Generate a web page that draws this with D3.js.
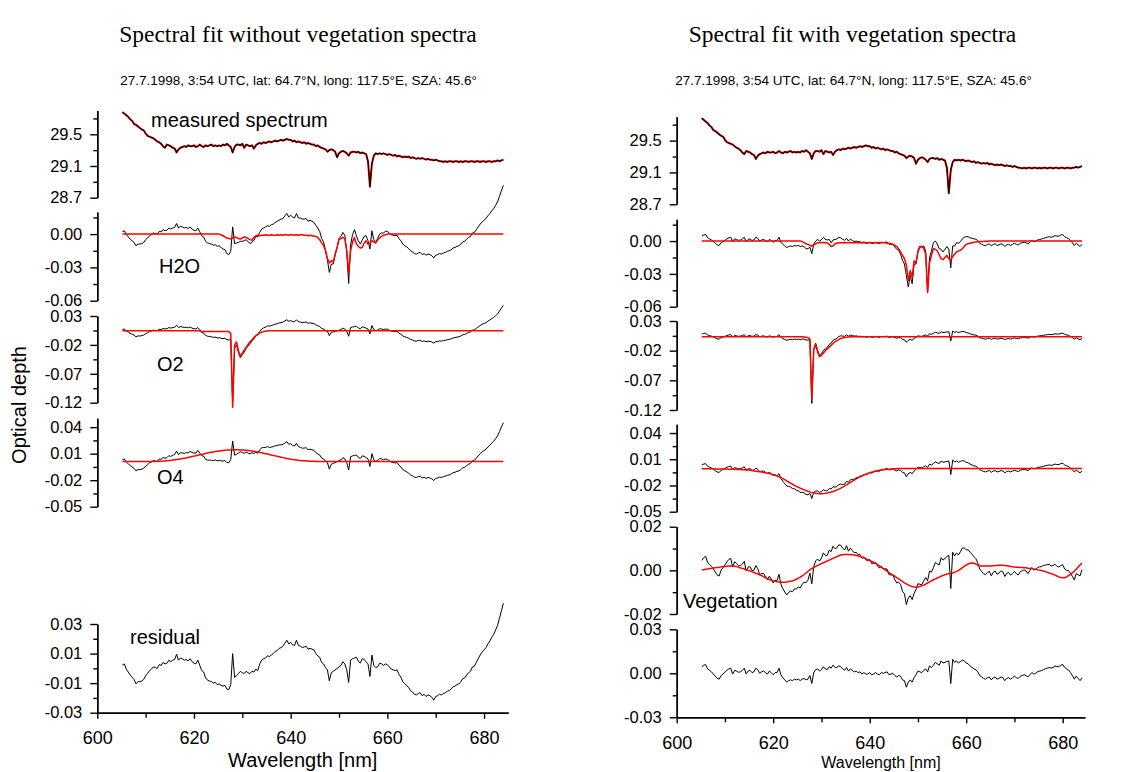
<!DOCTYPE html>
<html><head><meta charset="utf-8">
<script src="https://cdn.jsdelivr.net/npm/d3@7"></script>
<style>body{margin:0;background:#fff}svg{display:block}</style>
</head><body>
<svg id="chart" width="1131" height="772"></svg>
<script>
// ---------------- DATA ----------------
// wavelength grid [nm]: 605.2, 605.6, ... 684.0 (step 0.4 nm, 198 points; 10 per row)
const WL_START = 605.2, WL_STEP = 0.4;

// measured spectrum (ln intensity), same measurement in both fits
const measured = [
29.78,29.76,29.74,29.72,29.69,29.67,29.63,29.62,29.60,29.58,
29.56,29.55,29.51,29.48,29.47,29.46,29.45,29.43,29.41,29.40,
29.38,29.35,29.33,29.37,29.36,29.35,29.33,29.32,29.27,29.31,
29.33,29.34,29.35,29.34,29.36,29.35,29.35,29.36,29.34,29.35,
29.37,29.35,29.34,29.36,29.35,29.36,29.37,29.35,29.36,29.35,
29.36,29.35,29.37,29.36,29.38,29.36,29.34,29.27,29.34,29.37,
29.37,29.36,29.38,29.33,29.37,29.36,29.35,29.36,29.32,29.36,
29.38,29.39,29.38,29.40,29.39,29.40,29.41,29.40,29.41,29.42,
29.41,29.42,29.43,29.42,29.43,29.44,29.43,29.43,29.41,29.42,
29.40,29.41,29.40,29.39,29.40,29.38,29.39,29.38,29.37,29.37,
29.35,29.36,29.34,29.33,29.32,29.31,29.28,29.30,29.31,29.30,
29.28,29.21,29.26,29.28,29.29,29.28,29.26,29.23,29.27,29.28,
29.28,29.27,29.28,29.26,29.27,29.26,29.25,29.16,28.84,29.13,
29.23,29.26,29.25,29.26,29.25,29.26,29.25,29.24,29.25,29.24,
29.23,29.24,29.22,29.23,29.22,29.21,29.22,29.21,29.22,29.20,
29.21,29.20,29.19,29.20,29.19,29.20,29.19,29.18,29.19,29.18,
29.18,29.17,29.18,29.17,29.16,29.16,29.15,29.16,29.15,29.16,
29.16,29.15,29.16,29.16,29.15,29.16,29.15,29.16,29.16,29.15,
29.16,29.16,29.15,29.16,29.16,29.15,29.16,29.16,29.15,29.16,
29.16,29.15,29.16,29.16,29.17,29.16,29.17,29.18];

// all optical-depth series below are in units of 1e-3
// fit residual, fit without vegetation spectra
const residualLeft = [
2.3,3.0,-0.5,-2.5,-4.5,-6.0,-7.5,-10.5,-9.0,-9.0,
-8.5,-7.5,-5.0,-3.5,-1.5,-0.5,1.0,0.5,0.0,2.5,
2.0,4.0,3.0,3.5,5.5,4.5,5.5,6.0,9.5,5.5,
7.0,6.5,5.5,6.0,5.0,6.5,4.5,3.5,3.0,5.5,
2.0,-1.5,-2.5,-6.5,-8.0,-8.5,-9.0,-10.0,-9.5,-11.0,
-10.5,-11.5,-12.0,-11.5,-14.0,-14.5,-11.0,10.0,-6.0,-5.0,
-3.5,-2.0,-3.0,-3.5,-2.0,-3.0,-3.5,-2.0,-2.5,-0.5,
-1.5,3.0,5.5,6.5,7.0,8.5,8.0,9.0,10.0,11.5,
12.0,13.5,14.0,15.0,17.0,19.0,16.5,17.5,16.0,15.5,
19.0,15.5,15.0,14.0,14.5,15.0,13.0,13.5,13.0,12.5,
10.0,8.5,7.5,4.0,3.0,0.5,-1.0,-8.5,-3.0,-2.0,
-1.0,0.0,1.0,2.0,4.5,3.0,-1.0,-9.5,5.5,6.5,
7.0,7.5,5.0,3.5,6.5,6.0,4.5,3.0,-5.5,9.0,
2.0,0.5,1.0,3.5,3.0,2.0,3.0,2.5,1.0,-0.5,
-1.0,-1.5,-1.0,-4.0,-6.0,-9.0,-10.5,-11.5,-13.0,-15.0,
-16.0,-17.5,-18.0,-17.0,-16.5,-18.5,-17.5,-19.0,-18.0,-18.5,
-19.5,-21.5,-19.0,-18.5,-17.5,-18.0,-17.0,-16.5,-15.5,-15.0,
-14.0,-12.5,-12.0,-11.0,-10.5,-9.0,-7.0,-6.5,-4.5,-3.0,
-2.0,1.0,1.5,4.0,6.5,9.0,11.0,12.5,14.0,16.5,
18.5,21.0,23.0,26.0,29.0,34.0,39.0,44.0];

// fit residual, fit with vegetation spectra
const residualRight = [
4.5,5.5,6.0,3.0,2.0,1.0,-0.5,-2.0,-3.5,-4.0,
-1.5,-0.5,0.7,2.0,3.0,3.5,-0.5,2.0,1.5,0.7,
1.0,2.0,3.5,-0.5,1.5,2.0,0.5,1.0,3.5,2.5,
0.0,1.0,1.5,0.5,-0.5,1.5,0.5,-1.0,0.5,0.5,
3.5,-1.0,-3.0,-4.5,-6.0,-5.0,-4.5,-5.0,-4.0,-4.5,
-4.0,-5.0,-4.0,-3.5,-4.5,-4.0,-1.5,-7.0,0.5,2.5,
3.0,1.5,2.5,4.5,3.0,2.5,4.5,3.5,5.5,4.0,
4.0,5.0,4.5,3.0,2.0,4.0,1.5,3.0,2.0,1.0,
1.5,0.5,1.0,-0.5,0.5,-0.5,-0.5,0.5,-1.0,-0.5,
0.5,-0.5,-1.0,0.5,0.0,0.5,1.0,-1.0,-0.5,0.0,
-1.5,-2.5,-1.5,-2.0,-4.5,-5.0,-9.5,-6.0,-4.5,-6.0,
-3.0,-1.0,1.5,1.0,0.5,2.0,3.0,1.0,5.0,4.0,
5.5,7.5,6.5,5.5,8.5,7.0,7.5,8.0,8.5,-7.0,
9.5,7.5,8.5,7.0,8.0,9.0,8.5,7.0,6.5,5.0,
4.0,3.0,2.5,1.0,-1.5,-2.5,-3.5,-4.0,-3.0,-2.5,
-4.5,-3.0,-2.5,-4.0,-3.5,-2.5,-3.0,-5.0,-3.5,-3.0,
-4.0,-3.0,-2.0,-3.0,-3.5,-2.0,-1.5,-1.0,-1.5,-2.5,
-1.0,0.5,-0.5,0.0,1.0,1.5,1.8,2.5,3.0,3.5,
4.0,3.5,4.0,5.0,4.5,4.5,5.5,6.0,4.0,3.0,
2.3,0.5,-1.5,-4.0,-2.0,-3.5,-5.0,-3.0];

// fitted (scaled) cross sections, left fit
const h2oLeft = [
0,0,0,0,0,0,0,0,0,0,
0,0,0,0,0,0,0,0,0,0,
0,0,0,0,0,0,0,0,0,0,
0,0,0,0,0,0,0,0,0,0,
0,0,0,0,0,0,0,0,0,0,
0,-0.5,-1.5,-2.5,-3.5,-4,-4.5,-3.5,-2.5,-3,
-4,-4.5,-3.5,-2.5,-3,-4,-5,-5.5,-3,-1.5,
-1,-1.5,-1,-1,-0.5,-1,-1,-0.5,-1,-1,
-0.5,-1,-0.5,-1,-0.5,-0.5,-1,-0.5,-0.5,-1,
-0.5,-1,-0.5,-0.5,-1,-1,-1.5,-1,-1.5,-2,
-2,-3,-5,-8,-10,-15,-22,-26,-24,-25,
-18,-12,-5,-4,-3,-4,-15,-35,-15,-7,
-3,-9,-11,-12.5,-12,-8,-6,-9,-8,-6,
-7,-8,-5,-3.5,-2,-1,-0.5,0,0,0,
0,0,0,0,0,0,0,0,0,0,
0,0,0,0,0,0,0,0,0,0,
0,0,0,0,0,0,0,0,0,0,
0,0,0,0,0,0,0,0,0,0,
0,0,0,0,0,0,0,0,0,0,
0,0,0,0,0,0,0,0];

const o2Left = [
4.5,4.5,4.5,4.5,4.5,4.5,4.5,4.5,4.5,4.5,
4.5,4.5,4.5,4.5,4.5,4.5,4.5,4.5,4.5,4.5,
4.5,4.5,4.5,4.5,4.5,4.5,4.5,4.5,4.5,4.5,
4.5,4.5,4.5,4.5,4.5,4.5,4.5,4.5,4.5,4.5,
4.5,3,3,3,3,3,3,3,3,3,
3,3,3,3,3,3,0,-128,-20,-15,
-30,-40,-34,-29,-24,-19,-14.5,-11,-7,-4,
-1.5,0.5,2,3,3.7,4.2,4.5,4.5,4.5,4.5,
4.5,4.5,4.5,4.5,4.5,4.5,4.5,4.5,4.5,4.5,
4.5,4.5,4.5,4.5,4.5,4.5,4.5,4.5,4.5,4.5,
4.5,4.5,4.5,4.5,4.5,4.5,4.5,4.5,4.5,4.5,
4.5,4.5,4.5,4.5,4.5,4.5,4.5,4.5,4.5,4.5,
4.5,4.5,4.5,4.5,4.5,4.5,4.5,4.5,4.5,4.5,
4.5,4.5,4.5,4.5,4.5,4.5,4.5,4.5,4.5,4.5,
4.5,4.5,4.5,4.5,4.5,4.5,4.5,4.5,4.5,4.5,
4.5,4.5,4.5,4.5,4.5,4.5,4.5,4.5,4.5,4.5,
4.5,4.5,4.5,4.5,4.5,4.5,4.5,4.5,4.5,4.5,
4.5,4.5,4.5,4.5,4.5,4.5,4.5,4.5,4.5,4.5,
4.5,4.5,4.5,4.5,4.5,4.5,4.5,4.5,4.5,4.5,
4.5,4.5,4.5,4.5,4.5,4.5,4.5,4.5];

const o4Left = [
1,1,1,1,1,1,1,1,1,1,
1,1,1,1,1.1,1.1,1.2,1.2,1.3,1.4,
1.5,1.6,1.8,2,2.2,2.4,2.7,3,3.3,3.6,
4,4.4,4.8,5.2,5.7,6.2,6.7,7.2,7.7,8.2,
8.7,9.2,9.7,10.2,10.7,11.2,11.6,12,12.4,12.8,
13.1,13.4,13.6,13.8,14,14.1,14.2,14.3,14.3,14.3,
14.3,14.2,14.1,14,13.8,13.6,13.3,13,12.7,12.3,
11.9,11.5,11,10.5,10,9.5,9,8.5,8,7.5,
7,6.5,6,5.5,5,4.6,4.2,3.8,3.4,3.1,
2.8,2.5,2.3,2.1,1.9,1.7,1.6,1.5,1.4,1.3,
1.2,1.2,1.1,1.1,1.1,1,1,1,1,1,
1,1,1,1,1,1,1,1,1,1,
1,1,1,1,1,1,1,1,1,1,
1,1,1,1,1,1,1,1,1,1,
1,1,1,1,1,1,1,1,1,1,
1,1,1,1,1,1,1,1,1,1,
1,1,1,1,1,1,1,1,1,1,
1,1,1,1,1,1,1,1,1,1,
1,1,1,1,1,1,1,1,1,1,
1,1,1,1,1,1,1,1];

// fitted (scaled) cross sections, right fit
const h2oRight = [
0,0,0,0,0,0,0,0,0,0,
0,0,0,0,0,0,0,0,0,0,
0,0,0,0,0,0,0,0,0,0,
0,0,0,0,0,0,0,0,0,0,
0,0,0,0,0,0,0,0,0,0,
0,0,-0.5,-1.5,-2.5,-3,-4,-4.5,-3.5,-2.5,
-1.5,-1.5,-1.2,-1.2,-1.5,-1.5,-3,-5,-4.5,-2.5,
-2,-1.5,-1.5,-1.5,-1.2,-1.5,-1.5,-1.2,-1.5,-1.5,
-1.5,-1.2,-1.5,-1.5,-1.2,-1.5,-1.5,-1.5,-1.2,-1.5,
-1.5,-1.5,-1.2,-1.5,-1.5,-1.5,-2,-2,-2.5,-3,
-4,-5,-7,-10,-13,-16,-22,-36,-27,-33,
-18,-20,-10,-5.5,-5.5,-6.5,-12,-47,-20,-13,
-7,-7.5,-9,-12.5,-16,-17,-15,-13,-16,-17.5,
-14,-12,-10,-9,-8.5,-7,-5,-3,-2.5,-2,
-1.5,-1,-0.8,-0.6,-0.5,-0.4,-0.3,-0.2,-0.1,0,
0,0,0,0,0,0,0,0,0,0,
0,0,0,0,0,0,0,0,0,0,
0,0,0,0,0,0,0,0,0,0,
0,0,0,0,0,0,0,0,0,0,
0,0,0,0,0,0,0,0];

const o2Right = [
3.5,3.5,3.5,3.5,3.5,3.5,3.5,3.5,3.5,3.5,
3.5,3.5,3.5,3.5,3.5,3.5,3.5,3.5,3.5,3.5,
3.5,3.5,3.5,3.5,3.5,3.5,3.5,3.5,3.5,3.5,
3.5,3.5,3.5,3.5,3.5,3.5,3.5,3.5,3.5,3.5,
3.5,3.5,3.5,3.5,3.5,3.5,3.5,3.5,3.5,3.5,
3.5,3.5,3.5,3,2.5,2,0,-102,-18,-10,
-22,-30,-28,-24,-20,-17,-14,-11,-8,-5,
-3,-1,0.5,1.5,2.2,2.7,3,3.3,3.5,3.5,
3.5,3.5,3.5,3.5,3.5,3.5,3.5,3.5,3.5,3.5,
3.5,3.5,3.5,3.5,3.5,3.5,3.5,3.5,3.5,3.5,
3.5,3.5,3.5,3.5,3.5,3.5,3.5,3.5,3.5,3.5,
3.5,3.5,3.5,3.5,3.5,3.5,3.5,3.5,3.5,3.5,
3.5,3.5,3.5,3.5,3.5,3.5,3.5,3.5,3.5,3.5,
3.5,3.5,3.5,3.5,3.5,3.5,3.5,3.5,3.5,3.5,
3.5,3.5,3.5,3.5,3.5,3.5,3.5,3.5,3.5,3.5,
3.5,3.5,3.5,3.5,3.5,3.5,3.5,3.5,3.5,3.5,
3.5,3.5,3.5,3.5,3.5,3.5,3.5,3.5,3.5,3.5,
3.5,3.5,3.5,3.5,3.5,3.5,3.5,3.5,3.5,3.5,
3.5,3.5,3.5,3.5,3.5,3.5,3.5,3.5,3.5,3.5,
3.5,3.5,3.5,3.5,3.5,3.5,3.5,3.5];

const o4Right = [
-1,-1,-1,-1,-1,-1,-1,-1.1,-1.1,-1.1,
-1.1,-1.2,-1.2,-1.2,-1.3,-1.3,-1.4,-1.5,-1.6,-1.7,
-1.8,-1.9,-2,-2.2,-2.4,-2.7,-3,-3.3,-3.6,-3.9,
-4.2,-4.6,-5,-5.4,-5.9,-6.4,-7,-7.6,-8.3,-9.2,
-10,-11,-12.2,-13.4,-14.7,-16,-17.3,-18.6,-19.8,-21,
-22,-23,-24,-25,-25.8,-26.6,-27.3,-27.9,-28.4,-28.9,
-29.2,-29.4,-29.4,-29.3,-29,-28.6,-28.1,-27.5,-26.8,-26,
-25.1,-24.1,-23,-21.8,-20.5,-19.2,-17.8,-16.5,-15.1,-13.8,
-12.5,-11.3,-10.1,-9,-8,-7.1,-6.3,-5.5,-4.8,-4.2,
-3.6,-3.1,-2.7,-2.3,-2,-1.7,-1.5,-1.3,-1.1,-1,
-0.9,-0.8,-0.7,-0.7,-0.6,-0.6,-0.6,-0.5,-0.5,-0.5,
-0.5,-0.5,-0.5,-0.5,-0.5,-0.5,-0.5,-0.5,-0.5,-0.5,
-0.5,-0.5,-0.5,-0.5,-0.5,-0.5,-0.5,-0.5,-0.5,-0.5,
-0.5,-0.5,-0.5,-0.5,-0.5,-0.5,-0.5,-0.5,-0.5,-0.5,
-0.5,-0.5,-0.5,-0.5,-0.5,-0.5,-0.5,-0.5,-0.5,-0.5,
-0.5,-0.5,-0.5,-0.5,-0.5,-0.5,-0.5,-0.5,-0.5,-0.5,
-0.5,-0.5,-0.5,-0.5,-0.5,-0.5,-0.5,-0.5,-0.5,-0.5,
-0.5,-0.5,-0.5,-0.5,-0.5,-0.5,-0.5,-0.5,-0.5,-0.5,
-0.5,-0.5,-0.5,-0.5,-0.5,-0.5,-0.5,-0.5,-0.5,-0.5,
-0.5,-0.5,-0.5,-0.5,-0.5,-0.5,-0.5,-0.5];

const vegetationRight = [
0.1,0.3,0.5,0.6,0.8,0.9,1.1,1.2,1.3,1.4,
1.6,1.7,1.8,1.9,2,2,2,1.9,1.7,1.5,
1.1,0.9,0.6,0.3,0,-0.3,-0.6,-1,-1.3,-1.7,
-2,-2.4,-2.9,-3.4,-3.8,-4.2,-4.5,-4.8,-5,-5.2,
-5.3,-5.4,-5.4,-5.4,-5.3,-5.1,-5,-4.8,-4.5,-4.1,
-3.6,-3.1,-2.5,-1.9,-1.2,-0.5,0.3,0.8,1.3,1.8,
2.2,2.7,3.1,3.5,3.9,4.3,4.7,5.1,5.5,5.9,
6.3,6.7,7,7.2,7.3,7.3,7.3,7.2,7.1,7,
6.8,6.6,6.3,6,5.7,5.3,4.9,4.5,4.1,3.7,
3.2,2.6,2,1.4,0.8,0.2,-0.4,-1,-1.6,-2.1,
-2.7,-3.3,-3.9,-4.5,-5.1,-5.7,-6.2,-6.7,-7.1,-7.4,
-7.6,-7.7,-7.6,-7.4,-7.1,-6.8,-6.3,-5.8,-5.3,-4.8,
-4.3,-3.9,-3.5,-3.1,-2.7,-2.3,-2,-1.7,-1.5,-1.3,
-1.2,-0.9,-0.5,0,0.6,1.2,1.8,2.4,2.9,3.3,
3.4,3.3,2.9,2.4,2.1,2,2,2,2,2,
2,2.1,2.2,2.2,2.3,2.3,2.3,2.2,2.1,2,
1.8,1.6,1.5,1.4,1.4,1.3,1.3,1.2,1.2,1,
0.9,0.8,0.6,0.5,0.3,0.1,-0.1,-0.3,-0.6,-0.9,
-1.2,-1.5,-1.8,-2.2,-2.6,-3,-3.3,-3.4,-3.4,-3,
-2.4,-1.8,-1.2,-0.4,0.5,1.5,2.5,3.3];

// axis ticks
const wlTicks = [600, 620, 640, 660, 680];
const wlMinor = [610, 630, 650, 670];
const measTicks = [28.7, 29.1, 29.5], measMinor = [28.9, 29.3, 29.7];
const h2oTicks = [-0.06, -0.03, 0.00], h2oMinor = [-0.045, -0.015, 0.015];
const o2Ticks = [-0.12, -0.07, -0.02, 0.03], o2Minor = [-0.095, -0.045, 0.005];
const o4Ticks = [-0.05, -0.02, 0.01, 0.04], o4Minor = [-0.035, -0.005, 0.025];
const resLTicks = [-0.03, -0.01, 0.01, 0.03], resLMinor = [-0.02, 0, 0.02];
const vegTicks = [-0.02, 0.00, 0.02], vegMinor = [-0.01, 0.01];
const resRTicks = [-0.03, 0.00, 0.03], resRMinor = [-0.015, 0.015];

// ---------------- DRAWING ----------------
const svg = d3.select("#chart");
const SANS = "'Liberation Sans', Arial, Helvetica, sans-serif";
const SERIF = "'Liberation Serif', 'Times New Roman', Times, serif";
const BLACK = "#000", RED = "#ff0000";

const wl = d3.range(measured.length).map(i => WL_START + i * WL_STEP);
const od = a => a.map(v => v / 1000);                 // 1e-3 units -> optical depth
const plus = (a, b) => a.map((v, i) => v + b[i]);     // cross section + residual (as plotted in DOAS fits)

const rL = od(residualLeft), rR = od(residualRight);
const H2OL = od(h2oLeft), O2L = od(o2Left), O4L = od(o4Left);
const H2OR = od(h2oRight), O2R = od(o2Right), O4R = od(o4Right), VEG = od(vegetationRight);

const xL = d3.scaleLinear().domain([600, 685]).range([97.3, 508.2]);
const xR = d3.scaleLinear().domain([600, 684.6]).range([676.7, 1084.9]);

const f1 = v => v.toFixed(1), f2 = v => v.toFixed(2);

const panels = [
  {x: xL, dom: [28.7, 29.8], rng: [197.7, 110.5], maj: measTicks, min: measMinor, fmt: f1,
   lines: [{y: measured, c: RED, w: 2}, {y: measured, c: BLACK, w: 1.1}],
   label: {t: "measured spectrum", x: 151, y: 126.5}},
  {x: xL, dom: [-0.06, 0.02], rng: [300.7, 211.9], maj: h2oTicks, min: h2oMinor, fmt: f2,
   lines: [{y: plus(H2OL, rL), c: BLACK, w: 1}, {y: H2OL, c: RED, w: 1.5}],
   label: {t: "H2O", x: 159, y: 273.3}},
  {x: xL, dom: [-0.12, 0.03], rng: [402.7, 316], maj: o2Ticks, min: o2Minor, fmt: f2,
   lines: [{y: plus(O2L, rL), c: BLACK, w: 1}, {y: O2L, c: RED, w: 1.5}],
   label: {t: "O2", x: 157, y: 371}},
  {x: xL, dom: [-0.05, 0.05], rng: [506.7, 418.3], maj: o4Ticks, min: o4Minor, fmt: f2,
   lines: [{y: plus(O4L, rL), c: BLACK, w: 1}, {y: O4L, c: RED, w: 1.5}],
   label: {t: "O4", x: 157, y: 484}},
  {x: xL, dom: [-0.03, 0.03], rng: [712.7, 624], maj: resLTicks, min: resLMinor, fmt: f2,
   lines: [{y: rL, c: BLACK, w: 1}],
   label: {t: "residual", x: 130, y: 644}},

  {x: xR, dom: [28.7, 29.8], rng: [204.3, 116.7], maj: measTicks, min: measMinor, fmt: f1,
   lines: [{y: measured, c: RED, w: 2}, {y: measured, c: BLACK, w: 1.1}]},
  {x: xR, dom: [-0.06, 0.02], rng: [306.7, 219.2], maj: h2oTicks, min: h2oMinor, fmt: f2,
   lines: [{y: plus(H2OR, rR), c: BLACK, w: 1}, {y: H2OR, c: RED, w: 1.5}]},
  {x: xR, dom: [-0.12, 0.03], rng: [410, 321], maj: o2Ticks, min: o2Minor, fmt: f2,
   lines: [{y: plus(O2R, rR), c: BLACK, w: 1}, {y: O2R, c: RED, w: 1.5}]},
  {x: xR, dom: [-0.05, 0.05], rng: [511.7, 424.3], maj: o4Ticks, min: o4Minor, fmt: f2,
   lines: [{y: plus(O4R, rR), c: BLACK, w: 1}, {y: O4R, c: RED, w: 1.5}]},
  {x: xR, dom: [-0.02, 0.02], rng: [614, 526.7], maj: vegTicks, min: vegMinor, fmt: f2,
   lines: [{y: plus(VEG, rR), c: BLACK, w: 1}, {y: VEG, c: RED, w: 1.5}],
   label: {t: "Vegetation", x: 683, y: 607.7}},
  {x: xR, dom: [-0.03, 0.03], rng: [717.3, 629.3], maj: resRTicks, min: resRMinor, fmt: f2,
   lines: [{y: rR, c: BLACK, w: 1}]}
];

function styleAxis(g, size) {
  g.selectAll("path.domain").attr("stroke", BLACK).attr("stroke-width", 1.4);
  g.selectAll(".tick line").attr("stroke", BLACK).attr("stroke-width", 1.4);
  g.selectAll(".tick text").attr("fill", BLACK).style("font-family", SANS).style("font-size", size + "px");
}

panels.forEach(p => {
  const y = d3.scaleLinear().domain(p.dom).range(p.rng);
  const x0 = p.x.range()[0];
  const gMin = svg.append("g").attr("transform", `translate(${x0},0)`)
    .call(d3.axisLeft(y).tickValues(p.min).tickSize(4).tickSizeOuter(0).tickFormat(""));
  styleAxis(gMin, 16.5);
  const gMaj = svg.append("g").attr("transform", `translate(${x0},0)`)
    .call(d3.axisLeft(y).tickValues(p.maj).tickSize(7).tickPadding(8).tickSizeOuter(0).tickFormat(p.fmt));
  styleAxis(gMaj, 16.5);

  p.lines.forEach(l => {
    const line = d3.line().x((d, i) => p.x(wl[i])).y(d => y(d));
    svg.append("path").datum(l.y).attr("d", line)
      .attr("fill", "none").attr("stroke", l.c).attr("stroke-width", l.w)
      .attr("stroke-linejoin", "round");
  });
  if (p.label) {
    svg.append("text").attr("x", p.label.x).attr("y", p.label.y)
      .style("font-family", SANS).style("font-size", "20px").attr("fill", BLACK).text(p.label.t);
  }
});

// x axes
[[xL, 712.7], [xR, 717.3]].forEach(([x, yPos]) => {
  const gMin = svg.append("g").attr("transform", `translate(0,${yPos})`)
    .call(d3.axisBottom(x).tickValues(wlMinor).tickSize(5).tickSizeOuter(0).tickFormat(""));
  styleAxis(gMin, 18);
  const gMaj = svg.append("g").attr("transform", `translate(0,${yPos})`)
    .call(d3.axisBottom(x).tickValues(wlTicks).tickSize(6).tickPadding(13).tickSizeOuter(0).tickFormat(d3.format("d")));
  styleAxis(gMaj, 18);
});

// titles and axis labels
const sub = "27.7.1998, 3:54 UTC, lat: 64.7°N, long: 117.5°E, SZA: 45.6°";
svg.append("text").attr("x", 298).attr("y", 42).attr("text-anchor", "middle")
  .style("font-family", SERIF).style("font-size", "23.5px").text("Spectral fit without vegetation spectra");
svg.append("text").attr("x", 852.5).attr("y", 42).attr("text-anchor", "middle")
  .style("font-family", SERIF).style("font-size", "23.5px").text("Spectral fit with vegetation spectra");
svg.append("text").attr("x", 298.5).attr("y", 85).attr("text-anchor", "middle")
  .style("font-family", SANS).style("font-size", "13.5px").text(sub);
svg.append("text").attr("x", 853.5).attr("y", 85).attr("text-anchor", "middle")
  .style("font-family", SANS).style("font-size", "13.5px").text(sub);
svg.append("text").attr("transform", "translate(26,405) rotate(-90)").attr("text-anchor", "middle")
  .style("font-family", SANS).style("font-size", "20px").text("Optical depth");
svg.append("text").attr("x", 302.7).attr("y", 767).attr("text-anchor", "middle")
  .style("font-family", SANS).style("font-size", "20px").text("Wavelength [nm]");
svg.append("text").attr("x", 881).attr("y", 768).attr("text-anchor", "middle")
  .style("font-family", SANS).style("font-size", "16px").text("Wavelength [nm]");
</script>
</body></html>
